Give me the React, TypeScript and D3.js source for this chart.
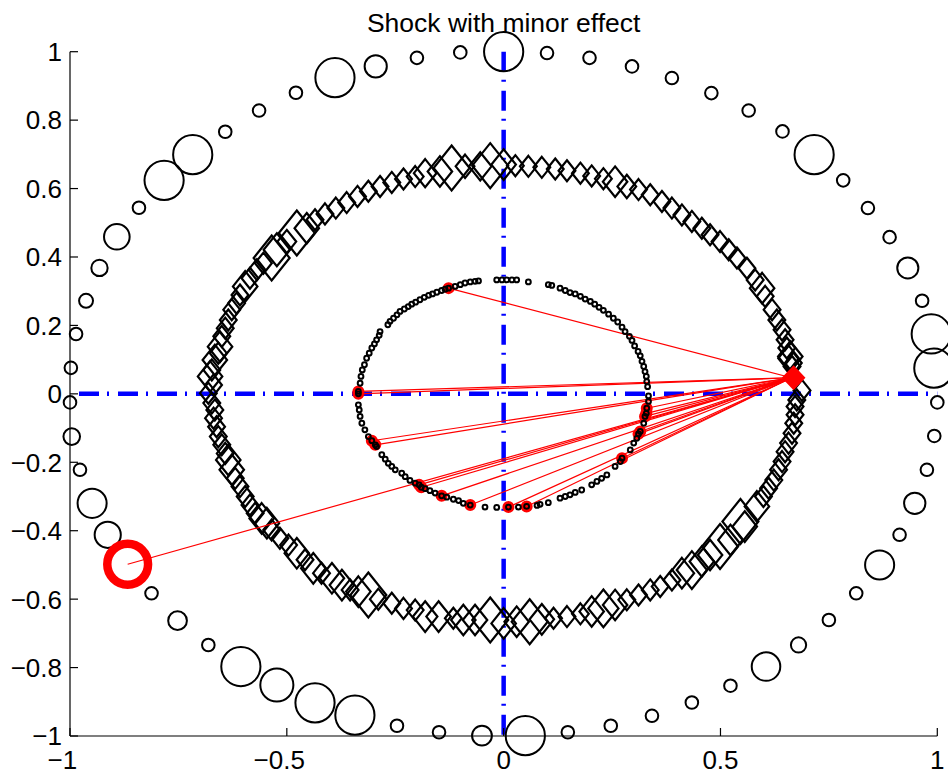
import * as d3 from "d3";

// ---- data ----
const xTicks = [-1, -0.5, 0, 0.5, 1];
const xTickLabels = ["−1", "−0.5", "0", "0.5", "1"];
const yTicks = [-1, -0.8, -0.6, -0.4, -0.2, 0, 0.2, 0.4, 0.6, 0.8, 1];
const yTickLabels = ["−1", "−0.8", "−0.6", "−0.4", "−0.2", "0", "0.2", "0.4", "0.6", "0.8", "1"];

// outer ring: [x, y, weight]
const outerRing: [number, number, number][] = [
  [1.0, -0.025, 0], [0.992, 0.075, 1], [0.986, 0.175, 1], [0.965, 0.272, 0],
  [0.932, 0.368, 0.32], [0.89, 0.458, 0], [0.84, 0.543, 0], [0.783, 0.624, 0],
  [0.716, 0.699, 1], [0.643, 0.767, 0], [0.565, 0.828, 0], [0.479, 0.879, 0],
  [0.388, 0.923, 0], [0.296, 0.957, 0], [0.198, 0.982, 0], [0.1, 0.996, 0],
  [0.0, 1.0, 1], [-0.1, 0.998, 0], [-0.2, 0.982, 0], [-0.295, 0.957, 0.36],
  [-0.389, 0.924, 1], [-0.479, 0.88, 0], [-0.564, 0.828, 0], [-0.642, 0.766, 0],
  [-0.717, 0.699, 1], [-0.783, 0.624, 1], [-0.841, 0.544, 0], [-0.892, 0.459, 0.49],
  [-0.932, 0.368, 0.14], [-0.963, 0.272, 0.05], [-0.986, 0.175, 0], [-0.998, 0.076, 0],
  [-1.0, -0.025, 0], [-0.996, -0.125, 0.15], [-0.977, -0.222, 0], [-0.949, -0.32, 0.62],
  [-0.913, -0.412, 0.51], [-0.812, -0.583, 0], [-0.752, -0.663, 0.23], [-0.681, -0.734, 0],
  [-0.606, -0.797, 1], [-0.523, -0.851, 0.77], [-0.435, -0.903, 1], [-0.343, -0.939, 1],
  [-0.246, -0.97, 0], [-0.149, -0.989, 0], [-0.05, -0.999, 0.27], [0.05, -0.999, 1],
  [0.148, -0.989, 0], [0.247, -0.97, 0], [0.342, -0.941, 0], [0.434, -0.902, 0],
  [0.523, -0.853, 0], [0.605, -0.797, 0.6], [0.68, -0.734, 0.1], [0.75, -0.661, 0],
  [0.813, -0.583, 0], [0.867, -0.5, 0.62], [0.913, -0.412, 0], [0.948, -0.32, 0.33],
  [0.976, -0.222, 0], [0.993, -0.123, 0],
];
const outerHighlight: [number, number] = [-0.867, -0.498];

// middle ring of diamonds: [x, y, weight]
const diamondRing: [number, number, number][] = [
  // upper left
  [0.0, 0.67, 0.4], [-0.031, 0.667, 1], [-0.054, 0.665, 0.3], [-0.089, 0.665, 0.1],
  [-0.12, 0.66, 1], [-0.147, 0.65, 0.4], [-0.181, 0.645, 0.3], [-0.204, 0.635, 0],
  [-0.231, 0.628, 0], [-0.258, 0.618, 0], [-0.285, 0.606, 0], [-0.312, 0.592, 0],
  [-0.337, 0.577, 0], [-0.362, 0.559, 0], [-0.387, 0.543, 0], [-0.412, 0.526, 0],
  [-0.435, 0.509, 0], [-0.454, 0.484, 0.4], [-0.477, 0.47, 1], [-0.5, 0.445, 0.1],
  [-0.523, 0.421, 0.5], [-0.535, 0.397, 1], [-0.554, 0.382, 0], [-0.569, 0.363, 0],
  [-0.585, 0.338, 0], [-0.596, 0.314, 0.4], [-0.608, 0.289, 0], [-0.616, 0.265, 0],
  [-0.627, 0.246, 0], [-0.635, 0.216, 0], [-0.642, 0.192, 0], [-0.65, 0.168, 0],
  [-0.654, 0.138, 0.4], [-0.658, 0.119, 0], [-0.666, 0.099, 0.4], [-0.673, 0.07, 0],
  [-0.677, 0.051, 0.4], [-0.669, 0.026, 0], [-0.681, 0.002, 0],
  // upper right
  [0.027, 0.667, 0], [0.057, 0.665, 0], [0.088, 0.662, 0], [0.119, 0.657, 0],
  [0.146, 0.652, 0], [0.177, 0.645, 0], [0.203, 0.637, 0], [0.23, 0.629, 0],
  [0.257, 0.62, 0.4], [0.284, 0.606, 0.1], [0.311, 0.597, 0], [0.338, 0.582, 0],
  [0.365, 0.562, 0], [0.388, 0.543, 0], [0.411, 0.523, 0], [0.434, 0.504, 0],
  [0.457, 0.484, 0], [0.476, 0.465, 0], [0.499, 0.445, 0], [0.519, 0.421, 0],
  [0.538, 0.397, 0], [0.561, 0.367, 0], [0.58, 0.333, 0], [0.596, 0.309, 0.4],
  [0.603, 0.285, 0], [0.619, 0.246, 0], [0.63, 0.216, 0], [0.642, 0.187, 0],
  [0.649, 0.158, 0], [0.653, 0.134, 0], [0.657, 0.104, 0.2], [0.661, 0.109, 0.4],
  [0.668, 0.09, 0], [0.665, 0.08, 0], [0.688, 0.01, 0],
  // lower left
  [-0.673, -0.027, 0], [-0.666, -0.047, 0], [-0.669, -0.071, 0], [-0.662, -0.096, 0],
  [-0.658, -0.125, 0], [-0.65, -0.149, 0], [-0.642, -0.174, 0], [-0.635, -0.193, 0.4],
  [-0.627, -0.222, 0.4], [-0.619, -0.247, 0], [-0.608, -0.271, 0], [-0.596, -0.3, 0],
  [-0.585, -0.325, 0], [-0.573, -0.349, 0], [-0.558, -0.364, 0.4], [-0.546, -0.378, 0.4],
  [-0.535, -0.398, 0], [-0.516, -0.422, 0], [-0.496, -0.442, 0], [-0.477, -0.466, 0.4],
  [-0.458, -0.485, 0], [-0.439, -0.51, 0.4], [-0.42, -0.524, 0], [-0.396, -0.539, 0.4],
  [-0.373, -0.559, 0.4], [-0.354, -0.573, 0], [-0.335, -0.578, 0.4], [-0.312, -0.588, 1],
  [-0.289, -0.6, 0], [-0.258, -0.612, 0], [-0.231, -0.627, 0], [-0.204, -0.632, 0],
  [-0.181, -0.651, 0.4], [-0.15, -0.651, 0.4], [-0.116, -0.656, 0], [-0.093, -0.661, 0.4],
  [-0.066, -0.661, 0.4], [-0.031, -0.661, 1],
  // lower right
  [0.0, -0.671, 0.4], [0.03, -0.666, 0.4], [0.06, -0.666, 1], [0.088, -0.659, 0.4],
  [0.115, -0.656, 0], [0.146, -0.651, 0], [0.177, -0.643, 0], [0.203, -0.636, 0.4],
  [0.23, -0.627, 0.7], [0.257, -0.617, 0.4], [0.284, -0.602, 0], [0.311, -0.588, 0],
  [0.338, -0.573, 0], [0.361, -0.563, 0], [0.388, -0.544, 0], [0.411, -0.524, 0.4],
  [0.434, -0.515, 0.7], [0.457, -0.49, 0.4], [0.476, -0.471, 0.4], [0.499, -0.446, 1],
  [0.523, -0.427, 0.4], [0.546, -0.373, 1], [0.556, -0.388, 0.4], [0.584, -0.329, 0.4],
  [0.599, -0.3, 0], [0.611, -0.276, 0], [0.623, -0.252, 0], [0.634, -0.222, 0],
  [0.642, -0.198, 0], [0.649, -0.169, 0], [0.657, -0.144, 0], [0.665, -0.115, 0],
  [0.669, -0.086, 0], [0.672, -0.061, 0], [0.672, -0.037, 0], [0.676, -0.018, 0],
];
const hub: [number, number] = [0.664, 0.047];

// inner ring of small markers
const innerRing: [number, number][] = [
  [-0.016, 0.333], [-0.004, 0.333], [0.007, 0.333], [0.019, 0.333], [0.03, 0.333],
  [0.057, 0.327], [0.103, 0.319], [0.111, 0.317],
  [0.13, 0.309], [0.142, 0.302], [0.153, 0.296], [0.165, 0.292], [0.177, 0.285],
  [0.188, 0.277], [0.2, 0.27], [0.21, 0.262], [0.22, 0.253], [0.23, 0.244],
  [0.242, 0.233], [0.253, 0.221], [0.263, 0.21], [0.273, 0.195], [0.28, 0.182],
  [0.29, 0.168], [0.296, 0.156], [0.302, 0.14], [0.31, 0.124], [0.315, 0.111],
  [0.319, 0.095], [0.323, 0.08], [0.326, 0.065], [0.329, 0.051], [0.33, 0.036],
  [0.332, 0.021], [0.334, -0.006], [0.334, -0.022],
  [0.323, -0.086], [0.307, -0.13], [0.3, -0.144], [0.292, -0.164], [0.269, -0.198],
  [0.257, -0.212], [0.238, -0.237], [0.226, -0.247], [0.215, -0.256], [0.203, -0.266],
  [0.18, -0.281], [0.165, -0.288], [0.153, -0.295], [0.142, -0.3], [0.13, -0.305],
  [0.103, -0.318], [0.084, -0.323], [0.077, -0.326], [0.034, -0.331], [-0.016, -0.332],
  [-0.043, -0.331], [-0.093, -0.32], [-0.104, -0.312], [-0.116, -0.308], [-0.131, -0.302],
  [-0.158, -0.29], [-0.17, -0.283], [-0.181, -0.277], [-0.204, -0.261], [-0.216, -0.253],
  [-0.227, -0.242], [-0.235, -0.232], [-0.25, -0.222], [-0.258, -0.212], [-0.266, -0.203],
  [-0.273, -0.191], [-0.281, -0.178], [-0.293, -0.154], [-0.312, -0.125], [-0.32, -0.105],
  [-0.327, -0.086], [-0.331, -0.066], [-0.333, -0.047], [-0.335, -0.032],
  [-0.331, 0.031], [-0.329, 0.051], [-0.326, 0.07], [-0.321, 0.085], [-0.316, 0.104],
  [-0.31, 0.119], [-0.304, 0.134], [-0.298, 0.146], [-0.293, 0.158], [-0.287, 0.171],
  [-0.285, 0.182], [-0.267, 0.202], [-0.262, 0.212], [-0.254, 0.221], [-0.246, 0.231],
  [-0.239, 0.241], [-0.229, 0.248], [-0.22, 0.255], [-0.212, 0.262], [-0.203, 0.268],
  [-0.193, 0.275], [-0.183, 0.282], [-0.173, 0.288], [-0.164, 0.292], [-0.154, 0.297],
  [-0.143, 0.302], [-0.135, 0.306], [-0.112, 0.314], [-0.1, 0.319], [-0.089, 0.324],
  [-0.077, 0.327], [-0.066, 0.329], [-0.058, 0.33],
];
// inner markers linked to the hub
const innerHighlight: [number, number][] = [
  [-0.127, 0.309], [-0.335, 0.007], [-0.335, 0.0], [-0.304, -0.137], [-0.296, -0.149],
  [-0.195, -0.266], [-0.19, -0.273], [-0.143, -0.298], [-0.077, -0.325], [0.011, -0.331],
  [0.053, -0.329], [0.273, -0.188], [0.315, -0.11], [0.311, -0.117], [0.326, -0.066],
  [0.329, -0.057], [0.33, -0.042],
];

const title = "Shock with minor effect";

const W = 948;
const H = 776;
const FONT = "'Liberation Sans', Arial, Helvetica, sans-serif";

function diamond(hw: number, hh: number) {
  const p = d3.path();
  p.moveTo(0, -hh);
  p.lineTo(hw, 0);
  p.lineTo(0, hh);
  p.lineTo(-hw, 0);
  p.closePath();
  return p.toString();
}

export default function App() {
  const x = d3.scaleLinear().domain([-1, 1]).range([70, 937.3]);
  const y = d3.scaleLinear().domain([-1, 1]).range([736, 51.7]);
  const circleR = d3.scaleLinear().domain([0, 1]).range([6.3, 19.6]);
  const diamondH = d3.scaleLinear().domain([0, 1]).range([10.5, 22.5]);

  const x0 = x.range()[0];
  const yBottom = y.range()[0];

  return (
    <svg
      width={W}
      height={H}
      style={{ position: "absolute", left: 0, top: 0, background: "#fff" }}
      fontFamily={FONT}
    >
      {/* dash-dot reference lines */}
      <line
        x1={x(-1)} y1={y(0)} x2={x(1)} y2={y(0)}
        stroke="#0000ff" strokeWidth={4.5} strokeDasharray="20 8 2 9" strokeDashoffset={30}
      />
      <line
        x1={x(0)} y1={y(1)} x2={x(0)} y2={y(-1)}
        stroke="#0000ff" strokeWidth={4.5} strokeDasharray="20 8 2 9"
      />

      {/* axes */}
      <line x1={x0} y1={y(1)} x2={x0} y2={yBottom} stroke="#000" strokeWidth={1.2} />
      <line x1={x0} y1={yBottom} x2={x(1)} y2={yBottom} stroke="#000" strokeWidth={1.2} />
      {yTicks.map((t, i) => (
        <g key={"yt" + i}>
          <line x1={x0} x2={x0 + 8} y1={y(t)} y2={y(t)} stroke="#000" strokeWidth={1.2} />
          <text x={62} y={y(t)} dy="0.36em" textAnchor="end" fontSize={26}>
            {yTickLabels[i]}
          </text>
        </g>
      ))}
      {xTicks.map((t, i) => {
        const lab = xTickLabels[i];
        const shift = lab.startsWith("−") ? 0.584 * 26 * 0.5 : 0;
        return (
          <g key={"xt" + i}>
            <line x1={x(t)} x2={x(t)} y1={yBottom} y2={yBottom - 8} stroke="#000" strokeWidth={1.2} />
            <text x={x(t) - shift} y={768.5} textAnchor="middle" fontSize={26}>
              {lab}
            </text>
          </g>
        );
      })}

      {/* outer ring */}
      {outerRing.map((d, i) => (
        <circle
          key={"o" + i}
          cx={x(d[0])} cy={y(d[1])} r={circleR(d[2])}
          fill="none" stroke="#000" strokeWidth={2}
        />
      ))}

      {/* middle ring of diamonds */}
      {diamondRing.map((d, i) => {
        const hh = diamondH(d[2]);
        return (
          <path
            key={"d" + i}
            d={diamond(hh * 0.8, hh)}
            transform={`translate(${x(d[0])},${y(d[1])})`}
            fill="none" stroke="#000" strokeWidth={2.2}
          />
        );
      })}

      {/* links from the hub */}
      {innerHighlight.concat([outerHighlight]).map((d, i) => (
        <line
          key={"l" + i}
          x1={x(hub[0])} y1={y(hub[1])} x2={x(d[0])} y2={y(d[1])}
          stroke="#ff0000" strokeWidth={1.2}
        />
      ))}

      <path
        d={diamond(10.5, 11)}
        transform={`translate(${x(hub[0]) + 2},${y(hub[1])})`}
        fill="#ff0000" stroke="#ff0000" strokeWidth={2}
      />

      {innerHighlight.map((d, i) => (
        <circle
          key={"ih" + i}
          cx={x(d[0])} cy={y(d[1])} r={5}
          fill="#ff0000" stroke="#ff0000" strokeWidth={2}
        />
      ))}

      {/* inner ring */}
      {innerRing.concat(innerHighlight).map((d, i) => (
        <circle
          key={"i" + i}
          cx={x(d[0])} cy={y(d[1])} r={2.4}
          fill="none" stroke="#000" strokeWidth={2}
        />
      ))}

      <circle
        cx={x(outerHighlight[0])} cy={y(outerHighlight[1])} r={20.4}
        fill="none" stroke="#ff0000" strokeWidth={8.5}
      />

      <text x={x(0)} y={31.5} textAnchor="middle" fontSize={26.5}>
        {title}
      </text>
    </svg>
  );
}
